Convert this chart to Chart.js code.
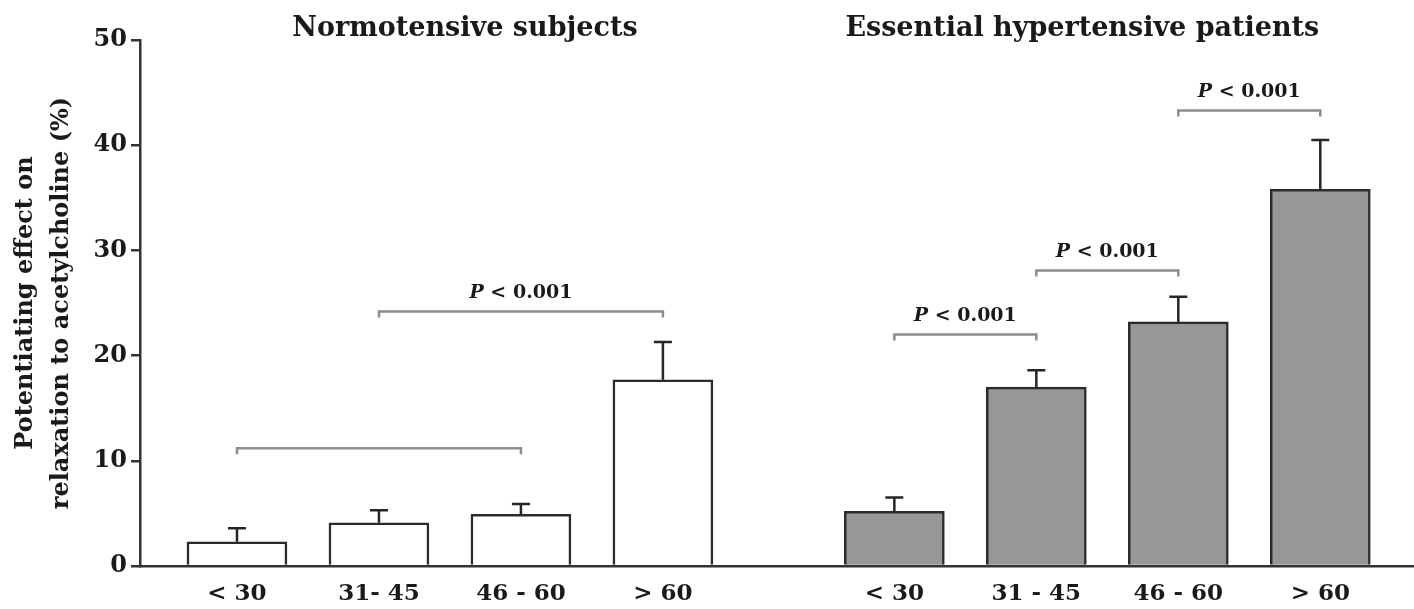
<!DOCTYPE html>
<html>
<head>
<meta charset="utf-8">
<title>Potentiating effect on relaxation to acetylcholine</title>
<script src="https://cdn.jsdelivr.net/npm/chart.js"></script>
<style>
  html, body { margin: 0; padding: 0; background: #fff; }
  #wrap { width: 1414px; height: 609px; position: relative; }
</style>
</head>
<body>
<div id="wrap"><canvas id="chart"></canvas></div>
<script>
// age groups (years)
const normoLabels = ["< 30", "31- 45", "46 - 60", "> 60"];
const hyperLabels = ["< 30", "31 - 45", "46 - 60", "> 60"];

// mean potentiating effect (%) and SEM
const normoMean = [2.3, 4.1, 4.9, 17.7];
const normoSem = [1.3, 1.2, 1.0, 3.6];
const hyperMean = [5.2, 17.0, 23.2, 35.8];
const hyperSem = [1.3, 1.6, 2.4, 4.7];

const yTicks = [0, 10, 20, 30, 40, 50];
const groupTitles = ["Normotensive subjects", "Essential hypertensive patients"];

// significance brackets (bar index across both groups, 0..7)
const bracketFrom = [0, 1, 4, 5, 6];
const bracketTo = [2, 3, 5, 6, 7];
const bracketY = [11.2, 24.2, 22.0, 28.1, 43.3];
const bracketLabel = ["", "P < 0.001", "P < 0.001", "P < 0.001", "P < 0.001"];

const SERIF = "'DejaVu Serif', serif";
const hyperStart = 4.63; // position of the first hypertensive bar on the x scale

const allLabels = normoLabels.concat(hyperLabels);
const allMean = normoMean.concat(hyperMean);
const allSem = normoSem.concat(hyperSem);
const positions = normoLabels.map((l, i) => i).concat(hyperLabels.map((l, i) => hyperStart + i));
const fills = normoLabels.map(() => "#ffffff").concat(hyperLabels.map(() => "#979797"));

const decorations = {
  id: "decorations",
  afterDatasetsDraw(chart) {
    const ctx = chart.ctx;
    const y = chart.scales.y;
    const bars = chart.getDatasetMeta(0).data;
    ctx.save();

    // error bars (upper half only)
    ctx.strokeStyle = "#262626";
    ctx.lineWidth = 2.5;
    bars.forEach((bar, i) => {
      const top = y.getPixelForValue(allMean[i] + allSem[i]);
      ctx.beginPath();
      ctx.moveTo(bar.x, bar.y);
      ctx.lineTo(bar.x, top);
      ctx.moveTo(bar.x - 9, top);
      ctx.lineTo(bar.x + 9, top);
      ctx.stroke();
    });

    // brackets + P labels
    ctx.strokeStyle = "#8c8c8c";
    ctx.lineWidth = 2.5;
    bracketFrom.forEach((f, k) => {
      const x1 = bars[f].x, x2 = bars[bracketTo[k]].x;
      const by = y.getPixelForValue(bracketY[k]);
      ctx.beginPath();
      ctx.moveTo(x1, by + 6);
      ctx.lineTo(x1, by);
      ctx.lineTo(x2, by);
      ctx.lineTo(x2, by + 6);
      ctx.stroke();
      if (bracketLabel[k]) {
        const rest = bracketLabel[k].slice(1);
        ctx.textBaseline = "middle";
        ctx.textAlign = "left";
        ctx.font = "italic bold 19px " + SERIF;
        const wP = ctx.measureText("P").width;
        ctx.font = "bold 19px " + SERIF;
        const wR = ctx.measureText(rest).width;
        const sx = (x1 + x2) / 2 - (wP + wR) / 2;
        ctx.fillStyle = "#1a1a1a";
        ctx.font = "italic bold 19px " + SERIF;
        ctx.fillText("P", sx, by - 18);
        ctx.font = "bold 19px " + SERIF;
        ctx.fillText(rest, sx + wP, by - 18);
      }
    });

    // group titles
    ctx.fillStyle = "#1a1a1a";
    ctx.font = "bold 27px " + SERIF;
    ctx.textAlign = "center";
    ctx.textBaseline = "middle";
    const nMid = (bars[0].x + bars[3].x) / 2 + 15;
    const hMid = (bars[4].x + bars[7].x) / 2 - 25;
    ctx.fillText(groupTitles[0], nMid, 29);
    ctx.fillText(groupTitles[1], hMid, 29);
    ctx.restore();
  }
};

new Chart(document.getElementById("chart"), {
  type: "bar",
  data: {
    datasets: [{
      data: positions.map((p, i) => ({ x: p, y: allMean[i] })),
      backgroundColor: fills,
      borderColor: "#2b2b2b",
      borderWidth: 2.5,
      barThickness: 100
    }]
  },
  options: {
    responsive: true,
    maintainAspectRatio: false,
    animation: false,
    layout: { padding: { top: 40, left: 8, right: 0, bottom: 0 } },
    plugins: {
      legend: { display: false },
      tooltip: { enabled: false }
    },
    scales: {
      x: {
        type: "linear",
        min: -0.683,
        max: 8.29,
        offset: false,
        grid: { display: false, offset: false },
        border: { display: true, color: "#333", width: 2.5 },
        afterBuildTicks: (s) => { s.ticks = positions.map(v => ({ value: v })); },
        afterFit: (s) => { s.height = 43; },
        ticks: {
          autoSkip: false,
          maxRotation: 0,
          minRotation: 0,
          padding: 6,
          color: "#1a1a1a",
          font: { family: SERIF, size: 23, weight: "bold" },
          callback: (v, i) => allLabels[i]
        }
      },
      y: {
        min: 0,
        max: 50,
        afterBuildTicks: (s) => { s.ticks = yTicks.map(v => ({ value: v })); },
        afterFit: (s) => { s.width = 132; },
        grid: { drawOnChartArea: false, tickLength: 9, color: "#333", lineWidth: 2.5 },
        border: { display: true, color: "#333", width: 2.5 },
        ticks: {
          padding: 4,
          color: "#1a1a1a",
          font: { family: SERIF, size: 24, weight: "bold" }
        },
        title: {
          display: true,
          text: ["Potentiating effect on", "relaxation to acetylcholine (%)"],
          color: "#1a1a1a",
          padding: 0,
          font: { family: SERIF, size: 24, weight: "bold", lineHeight: 1.5 }
        }
      }
    }
  },
  plugins: [decorations]
});
</script>
</body>
</html>
